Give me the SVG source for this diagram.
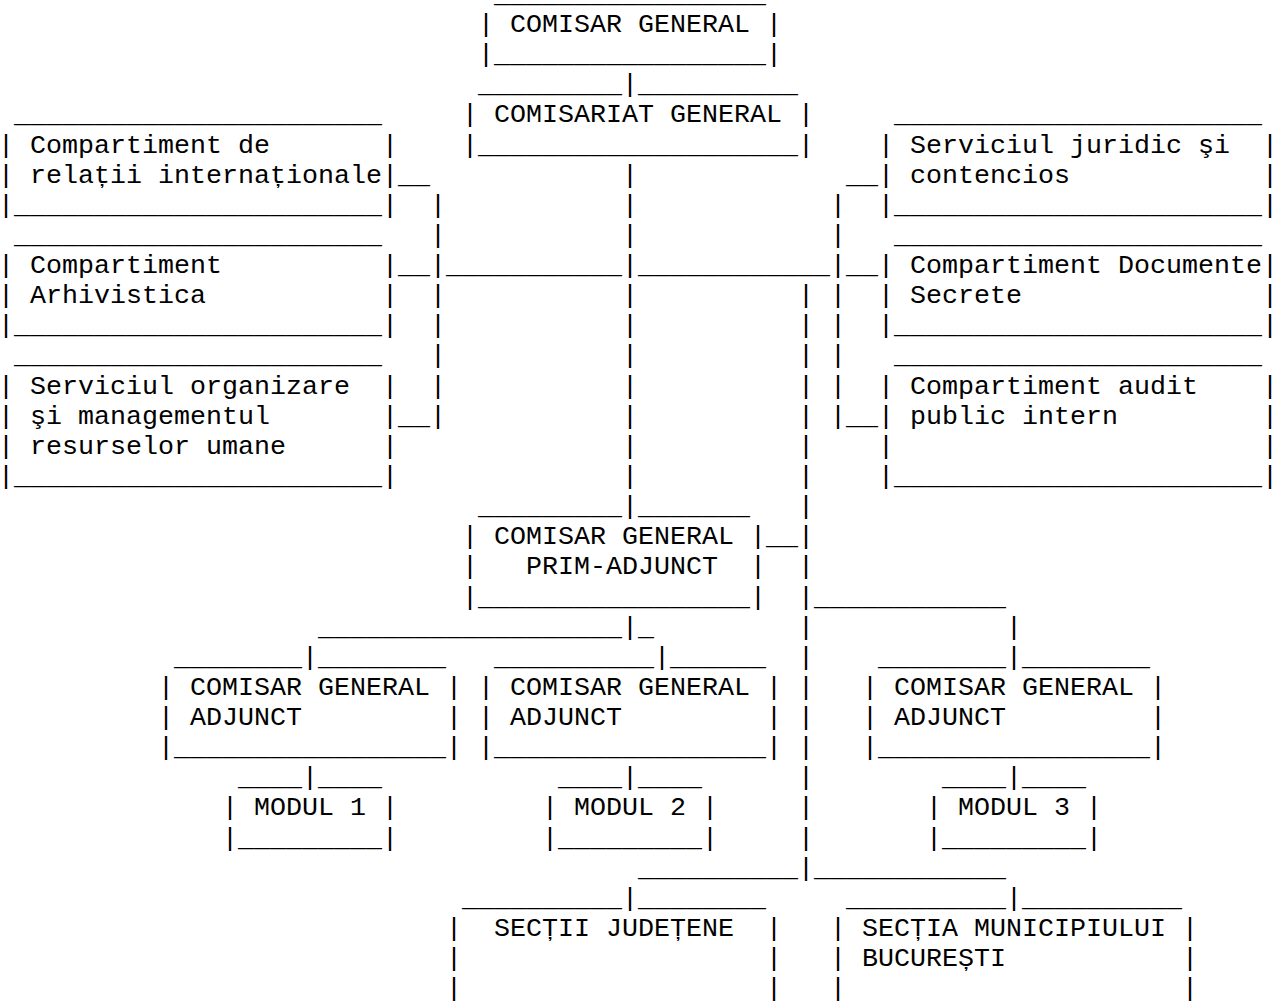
<svg xmlns="http://www.w3.org/2000/svg" width="1272" height="1002" viewBox="0 0 1272 1002">
<style>
text{font-family:"Liberation Mono","Courier New",monospace;font-size:26.667px;fill:#000}
</style>
<rect width="1272" height="1002" fill="#fff"/>
<g id="connectors">
<text y="92.3"><tspan x="622">|</tspan></text>
<text y="182.7"><tspan x="398">__</tspan><tspan x="622">|</tspan><tspan x="846">__</tspan></text>
<text y="212.8"><tspan x="430">|</tspan><tspan x="622">|</tspan><tspan x="830">|</tspan></text>
<text y="242.9"><tspan x="430">|</tspan><tspan x="622">|</tspan><tspan x="830">|</tspan></text>
<text y="273.0"><tspan x="398">__|___________|____________|__</tspan></text>
<text y="303.2"><tspan x="430">|</tspan><tspan x="622">|</tspan><tspan x="798">|</tspan><tspan x="830">|</tspan></text>
<text y="333.3"><tspan x="430">|</tspan><tspan x="622">|</tspan><tspan x="798">|</tspan><tspan x="830">|</tspan></text>
<text y="363.4"><tspan x="430">|</tspan><tspan x="622">|</tspan><tspan x="798">|</tspan><tspan x="830">|</tspan></text>
<text y="393.6"><tspan x="430">|</tspan><tspan x="622">|</tspan><tspan x="798">|</tspan><tspan x="830">|</tspan></text>
<text y="423.7"><tspan x="398">__|</tspan><tspan x="622">|</tspan><tspan x="798">|</tspan><tspan x="830">|__</tspan></text>
<text y="453.8"><tspan x="622">|</tspan><tspan x="798">|</tspan></text>
<text y="484.0"><tspan x="622">|</tspan><tspan x="798">|</tspan></text>
<text y="514.1"><tspan x="622">|</tspan><tspan x="798">|</tspan></text>
<text y="544.2"><tspan x="766">__|</tspan></text>
<text y="574.3"><tspan x="798">|</tspan></text>
<text y="604.5"><tspan x="798">|____________</tspan></text>
<text y="634.6"><tspan x="318">___________________|_</tspan><tspan x="798">|</tspan><tspan x="1006">|</tspan></text>
<text y="664.7"><tspan x="302">|</tspan><tspan x="654">|</tspan><tspan x="798">|</tspan><tspan x="1006">|</tspan></text>
<text y="694.9"><tspan x="798">|</tspan></text>
<text y="725.0"><tspan x="798">|</tspan></text>
<text y="755.1"><tspan x="798">|</tspan></text>
<text y="785.3"><tspan x="302">|</tspan><tspan x="622">|</tspan><tspan x="798">|</tspan><tspan x="1006">|</tspan></text>
<text y="815.4"><tspan x="798">|</tspan></text>
<text y="845.5"><tspan x="798">|</tspan></text>
<text y="875.6"><tspan x="638">__________|____________</tspan></text>
<text y="905.8"><tspan x="622">|</tspan><tspan x="1006">|</tspan></text>
</g>
<g id="n-comisar-general">
<text x="494" y="1.9">_________________</text>
<text y="32.0"><tspan x="478">|</tspan><tspan x="510">COMISAR GENERAL</tspan><tspan x="766">|</tspan></text>
<text x="478" y="62.1">|_________________|</text>
</g>
<g id="n-comisariat-general">
<text y="92.3"><tspan x="478">_________</tspan><tspan x="638">__________</tspan></text>
<text y="122.4"><tspan x="462">|</tspan><tspan x="494">COMISARIAT GENERAL</tspan><tspan x="798">|</tspan></text>
<text x="462" y="152.5">|____________________|</text>
</g>
<g id="n-relatii-internationale">
<text x="14" y="122.4">_______________________</text>
<text y="152.5"><tspan x="-2">|</tspan><tspan x="30">Compartiment de</tspan><tspan x="382">|</tspan></text>
<text y="182.7"><tspan x="-2">|</tspan><tspan x="30">relații internaționale</tspan><tspan x="382">|</tspan></text>
<text x="-2" y="212.8">|_______________________|</text>
</g>
<g id="n-arhivistica">
<text x="14" y="242.9">_______________________</text>
<text y="273.0"><tspan x="-2">|</tspan><tspan x="30">Compartiment</tspan><tspan x="382">|</tspan></text>
<text y="303.2"><tspan x="-2">|</tspan><tspan x="30">Arhivistica</tspan><tspan x="382">|</tspan></text>
<text x="-2" y="333.3">|_______________________|</text>
</g>
<g id="n-resurse-umane">
<text x="14" y="363.4">_______________________</text>
<text y="393.6"><tspan x="-2">|</tspan><tspan x="30">Serviciul organizare</tspan><tspan x="382">|</tspan></text>
<text y="423.7"><tspan x="-2">|</tspan><tspan x="30">şi managementul</tspan><tspan x="382">|</tspan></text>
<text y="453.8"><tspan x="-2">|</tspan><tspan x="30">resurselor umane</tspan><tspan x="382">|</tspan></text>
<text x="-2" y="484.0">|_______________________|</text>
</g>
<g id="n-juridic">
<text x="894" y="122.4">_______________________</text>
<text y="152.5"><tspan x="878">|</tspan><tspan x="910">Serviciul juridic şi</tspan><tspan x="1262">|</tspan></text>
<text y="182.7"><tspan x="878">|</tspan><tspan x="910">contencios</tspan><tspan x="1262">|</tspan></text>
<text x="878" y="212.8">|_______________________|</text>
</g>
<g id="n-documente-secrete">
<text x="894" y="242.9">_______________________</text>
<text y="273.0"><tspan x="878">|</tspan><tspan x="910">Compartiment Documente</tspan><tspan x="1262">|</tspan></text>
<text y="303.2"><tspan x="878">|</tspan><tspan x="910">Secrete</tspan><tspan x="1262">|</tspan></text>
<text x="878" y="333.3">|_______________________|</text>
</g>
<g id="n-audit">
<text x="894" y="363.4">_______________________</text>
<text y="393.6"><tspan x="878">|</tspan><tspan x="910">Compartiment audit</tspan><tspan x="1262">|</tspan></text>
<text y="423.7"><tspan x="878">|</tspan><tspan x="910">public intern</tspan><tspan x="1262">|</tspan></text>
<text y="453.8"><tspan x="878">|</tspan><tspan x="1262">|</tspan></text>
<text x="878" y="484.0">|_______________________|</text>
</g>
<g id="n-prim-adjunct">
<text y="514.1"><tspan x="478">_________</tspan><tspan x="638">_______</tspan></text>
<text y="544.2"><tspan x="462">|</tspan><tspan x="494">COMISAR GENERAL</tspan><tspan x="750">|</tspan></text>
<text y="574.3"><tspan x="462">|</tspan><tspan x="526">PRIM-ADJUNCT</tspan><tspan x="750">|</tspan></text>
<text x="462" y="604.5">|_________________|</text>
</g>
<g id="n-adjunct-1">
<text y="664.7"><tspan x="174">________</tspan><tspan x="318">________</tspan></text>
<text y="694.9"><tspan x="158">|</tspan><tspan x="190">COMISAR GENERAL</tspan><tspan x="446">|</tspan></text>
<text y="725.0"><tspan x="158">|</tspan><tspan x="190">ADJUNCT</tspan><tspan x="446">|</tspan></text>
<text x="158" y="755.1">|_________________|</text>
</g>
<g id="n-adjunct-2">
<text y="664.7"><tspan x="494">__________</tspan><tspan x="670">______</tspan></text>
<text y="694.9"><tspan x="478">|</tspan><tspan x="510">COMISAR GENERAL</tspan><tspan x="766">|</tspan></text>
<text y="725.0"><tspan x="478">|</tspan><tspan x="510">ADJUNCT</tspan><tspan x="766">|</tspan></text>
<text x="478" y="755.1">|_________________|</text>
</g>
<g id="n-adjunct-3">
<text y="664.7"><tspan x="878">________</tspan><tspan x="1022">________</tspan></text>
<text y="694.9"><tspan x="862">|</tspan><tspan x="894">COMISAR GENERAL</tspan><tspan x="1150">|</tspan></text>
<text y="725.0"><tspan x="862">|</tspan><tspan x="894">ADJUNCT</tspan><tspan x="1150">|</tspan></text>
<text x="862" y="755.1">|_________________|</text>
</g>
<g id="n-modul-1">
<text y="785.3"><tspan x="238">____</tspan><tspan x="318">____</tspan></text>
<text y="815.4"><tspan x="222">|</tspan><tspan x="254">MODUL 1</tspan><tspan x="382">|</tspan></text>
<text x="222" y="845.5">|_________|</text>
</g>
<g id="n-modul-2">
<text y="785.3"><tspan x="558">____</tspan><tspan x="638">____</tspan></text>
<text y="815.4"><tspan x="542">|</tspan><tspan x="574">MODUL 2</tspan><tspan x="702">|</tspan></text>
<text x="542" y="845.5">|_________|</text>
</g>
<g id="n-modul-3">
<text y="785.3"><tspan x="942">____</tspan><tspan x="1022">____</tspan></text>
<text y="815.4"><tspan x="926">|</tspan><tspan x="958">MODUL 3</tspan><tspan x="1086">|</tspan></text>
<text x="926" y="845.5">|_________|</text>
</g>
<g id="n-sectii-judetene">
<text y="905.8"><tspan x="462">__________</tspan><tspan x="638">________</tspan></text>
<text y="935.9"><tspan x="446">|</tspan><tspan x="494">SECȚII JUDEȚENE</tspan><tspan x="766">|</tspan></text>
<text y="966.0"><tspan x="446">|</tspan><tspan x="766">|</tspan></text>
<text y="996.2"><tspan x="446">|</tspan><tspan x="766">|</tspan></text>
</g>
<g id="n-sectia-bucuresti">
<text y="905.8"><tspan x="846">__________</tspan><tspan x="1022">__________</tspan></text>
<text y="935.9"><tspan x="830">|</tspan><tspan x="862">SECȚIA MUNICIPIULUI</tspan><tspan x="1182">|</tspan></text>
<text y="966.0"><tspan x="830">|</tspan><tspan x="862">BUCUREȘTI</tspan><tspan x="1182">|</tspan></text>
<text y="996.2"><tspan x="830">|</tspan><tspan x="1182">|</tspan></text>
</g>
</svg>
